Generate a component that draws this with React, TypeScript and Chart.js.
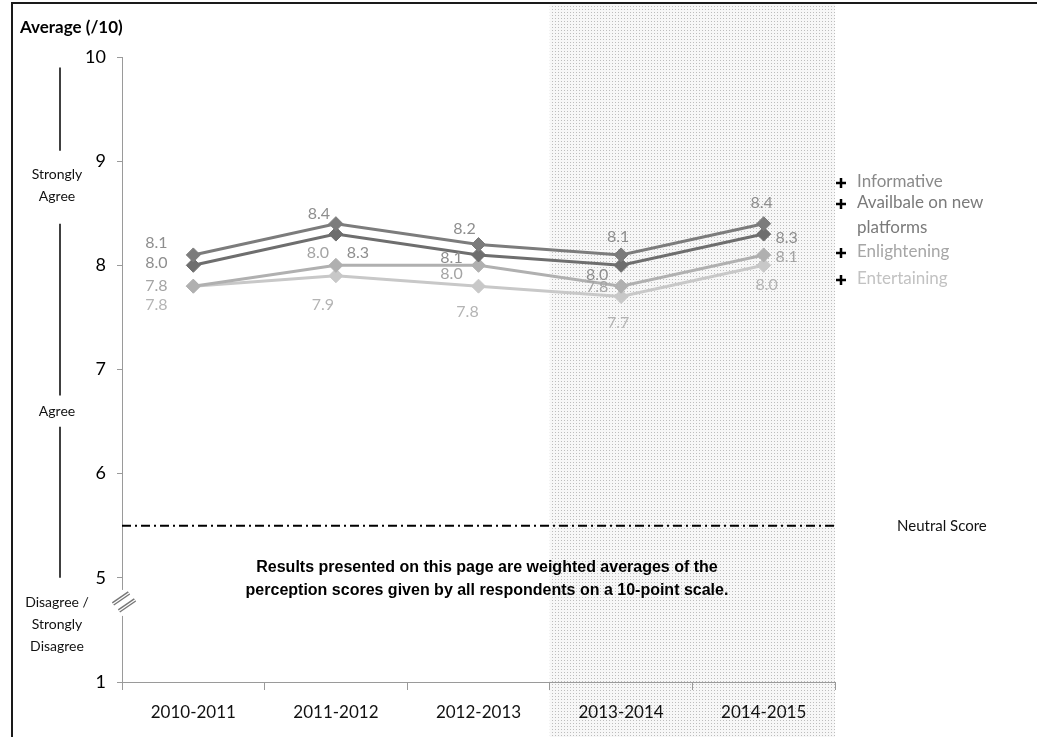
import { useEffect, useRef } from 'react';
import { Chart, registerables } from 'chart.js';

Chart.register(...registerables);

// Survey years on the category axis
const seasons = ['2010-2011', '2011-2012', '2012-2013', '2013-2014', '2014-2015'];

// Average perception scores (/10) per statement
const informative = [8.1, 8.4, 8.2, 8.1, 8.4];
const availableOnNewPlatforms = [8.0, 8.3, 8.1, 8.0, 8.3];
const enlightening = [7.8, 8.0, 8.0, 7.8, 8.1];
const entertaining = [7.8, 7.9, 7.8, 7.7, 8.0];

// Value axis: 5..10 drawn to scale, everything below 5 squeezed into one step
const axisTop = 10;
const axisBreakStep = 4; // position used for the compressed bottom of the axis
const axisBottomLabel = '1';
const neutralScore = 5.5;

const legendNames = ['Informative', 'Availbale on new', 'Enlightening', 'Entertaining'];

const FONT = 'Lato, "Open Sans", sans-serif';

// label offsets (px) from each point to its value label
const labelOffsets = {
  informative: [[-37, -12], [-17, -10], [-14, -16], [-3, -18], [-2, -21]],
  available: [[-37, -2], [22, 19], [-27, 3], [-24, 10], [23, 4]],
  enlightening: [[-37, 0], [-18, -12], [-27, 9], [-24, 1], [23, 2]],
  entertaining: [[-37, 19], [-13, 29], [-11, 26], [-3, 26], [3, 20]],
};

function makeShade(ctx: CanvasRenderingContext2D) {
  const tile = document.createElement('canvas');
  tile.width = 3;
  tile.height = 3;
  const t = tile.getContext('2d')!;
  t.fillStyle = '#f7f7f7';
  t.fillRect(0, 0, 3, 3);
  t.fillStyle = '#bdbdbd';
  t.fillRect(0, 0, 1, 1);
  return ctx.createPattern(tile, 'repeat');
}

const decor = {
  id: 'decor',
  beforeDraw(chart: any) {
    const { ctx, chartArea, scales } = chart;
    const xs = scales.x;
    const left = (xs.getPixelForValue(2) + xs.getPixelForValue(3)) / 2;
    ctx.save();
    const pat = makeShade(ctx);
    if (pat) ctx.fillStyle = pat;
    ctx.fillRect(left, 3, chartArea.right - left, chart.height - 3);
    ctx.restore();
  },
  afterDatasetsDraw(chart: any) {
    const { ctx } = chart;
    ctx.save();
    ctx.font = `16px ${FONT}`;
    ctx.textAlign = 'center';
    ctx.textBaseline = 'middle';
    chart.data.datasets.forEach((ds: any, di: number) => {
      const meta = chart.getDatasetMeta(di);
      ctx.fillStyle = ds.labelColor;
      meta.data.forEach((pt: any, i: number) => {
        const [dx, dy] = ds.labelOffsets[i];
        ctx.fillText(Number(ds.data[i]).toFixed(1), pt.x + dx, pt.y + dy);
      });
    });
    ctx.restore();
  },
  afterDraw(chart: any) {
    const { ctx, chartArea, scales } = chart;
    const ys = scales.y;
    ctx.save();

    // frame
    ctx.strokeStyle = '#1a1a1a';
    ctx.lineWidth = 2;
    ctx.beginPath();
    ctx.moveTo(12, chart.height);
    ctx.lineTo(12, 3);
    ctx.lineTo(chart.width, 3);
    ctx.stroke();

    // title
    ctx.fillStyle = '#000';
    ctx.font = `bold 17px ${FONT}`;
    ctx.textAlign = 'left';
    ctx.textBaseline = 'middle';
    ctx.fillText('Average (/10)', 20, 28);

    // agreement bands on the left
    ctx.strokeStyle = '#000';
    ctx.lineWidth = 1.5;
    const bar = (y1: number, y2: number) => {
      ctx.beginPath();
      ctx.moveTo(60, y1);
      ctx.lineTo(60, y2);
      ctx.stroke();
    };
    bar(ys.getPixelForValue(9.9), ys.getPixelForValue(9.1));
    bar(ys.getPixelForValue(8.4), ys.getPixelForValue(6.75));
    bar(ys.getPixelForValue(6.45), ys.getPixelForValue(5));
    ctx.font = `14px ${FONT}`;
    ctx.textAlign = 'center';
    ctx.fillStyle = '#111';
    ctx.fillText('Strongly', 57, 174);
    ctx.fillText('Agree', 57, 196);
    ctx.fillText('Agree', 57, 411);
    ctx.fillText('Disagree /', 57, 602);
    ctx.fillText('Strongly', 57, 624);
    ctx.fillText('Disagree', 57, 646);

    // neutral score reference line
    const ny = ys.getPixelForValue(neutralScore);
    ctx.strokeStyle = '#000';
    ctx.lineWidth = 2;
    ctx.setLineDash([9, 4, 2, 4]);
    ctx.beginPath();
    ctx.moveTo(chartArea.left, ny);
    ctx.lineTo(chartArea.right, ny);
    ctx.stroke();
    ctx.setLineDash([]);
    ctx.font = `15px ${FONT}`;
    ctx.textAlign = 'left';
    ctx.fillStyle = '#111';
    ctx.fillText('Neutral Score', 897, ny);

    // axis break marks
    const bx = chartArea.left;
    const by = (ys.getPixelForValue(5) + ys.getPixelForValue(axisBreakStep)) / 2 - 28;
    ctx.fillStyle = '#fff';
    ctx.fillRect(bx - 3, by - 12, 6, 26);
    const slash = (x0: number, y0: number) => {
      ctx.beginPath();
      ctx.moveTo(x0, y0);
      ctx.lineTo(x0 + 16, y0 - 11);
      ctx.strokeStyle = '#777';
      ctx.lineWidth = 4;
      ctx.stroke();
      ctx.strokeStyle = '#fff';
      ctx.lineWidth = 1.2;
      ctx.stroke();
    };
    slash(bx - 9, by + 2);
    slash(bx - 3, by + 9);

    // note
    ctx.fillStyle = '#000';
    ctx.font = `bold 16px "Liberation Sans", Arial, sans-serif`;
    ctx.textAlign = 'center';
    ctx.fillText('Results presented on this page are weighted averages of the', 487, 568);
    ctx.fillText('perception scores given by all respondents on a 10-point scale.', 487, 591);

    // legend
    const legendRows = [
      { y: 182, color: '#8a8a8a' },
      { y: 203, color: '#7a7a7a' },
      { y: 252, color: '#a6a6a6' },
      { y: 279, color: '#c2c2c2' },
    ];
    legendRows.forEach((row, i) => {
      // bold cross marker
      ctx.strokeStyle = '#000';
      ctx.lineWidth = 2.5;
      ctx.beginPath();
      ctx.moveTo(836, row.y + 1);
      ctx.lineTo(846, row.y + 1);
      ctx.moveTo(841, row.y - 4);
      ctx.lineTo(841, row.y + 6);
      ctx.stroke();
      ctx.fillStyle = row.color;
      ctx.font = `17px ${FONT}`;
      ctx.textAlign = 'left';
      ctx.fillText(legendNames[i], 857, row.y);
    });
    ctx.fillStyle = legendRows[1].color;
    ctx.fillText('platforms', 857, 228);

    ctx.restore();
  },
};

export default function App() {
  const canvasRef = useRef<HTMLCanvasElement | null>(null);

  useEffect(() => {
    const canvas = canvasRef.current;
    if (!canvas) return;
    const series = (label: string, data: number[], color: string, labelColor: string, offsets: number[][]) => ({
      label,
      data,
      borderColor: color,
      backgroundColor: color,
      borderWidth: 3,
      pointStyle: 'rectRot',
      pointRadius: 7,
      pointBorderWidth: 1,
      pointBorderColor: color,
      pointBackgroundColor: color,
      tension: 0,
      fill: false,
      labelColor,
      labelOffsets: offsets,
    });
    const chart = new Chart(canvas, {
      type: 'line',
      data: {
        labels: seasons,
        datasets: [
          series('Informative', informative, '#7c7c7c', '#8e8e8e', labelOffsets.informative),
          series('Availbale on new platforms', availableOnNewPlatforms, '#6e6e6e', '#8e8e8e', labelOffsets.available),
          series('Enlightening', enlightening, '#b0b0b0', '#a4a4a4', labelOffsets.enlightening),
          series('Entertaining', entertaining, '#c8c8c8', '#b4b4b4', labelOffsets.entertaining),
        ] as any,
      },
      options: {
        animation: false,
        responsive: true,
        maintainAspectRatio: false,
        layout: { padding: { top: 57, right: 202, bottom: 0, left: 0 } },
        plugins: { legend: { display: false }, tooltip: { enabled: false } },
        scales: {
          x: {
            offset: true,
            grid: {
              offset: true,
              drawOnChartArea: false,
              drawTicks: true,
              tickLength: 8,
              color: '#9a9a9a',
            },
            border: { color: '#9a9a9a', dash: [2, 1], width: 1 },
            ticks: { color: '#111', font: { family: FONT, size: 17 }, padding: 12 },
            afterFit: (s: any) => {
              s.height = 55;
            },
          },
          y: {
            min: axisBreakStep,
            max: axisTop,
            grid: { drawOnChartArea: false, drawTicks: true, tickLength: 5, color: '#9a9a9a' },
            border: { color: '#9a9a9a', dash: [2, 1], width: 1 },
            ticks: {
              stepSize: 1,
              color: '#000',
              font: { family: FONT, size: 18 },
              padding: 11,
              callback: (v: any) => (Number(v) === axisBreakStep ? axisBottomLabel : String(v)),
            },
            afterFit: (s: any) => {
              s.width = 122;
            },
          },
        },
      },
      plugins: [decor],
    });
    return () => chart.destroy();
  }, []);

  return (
    <div style={{ position: 'absolute', left: 0, top: 0, width: 1037, height: 737, background: '#fff' }}>
      <canvas ref={canvasRef} />
    </div>
  );
}
